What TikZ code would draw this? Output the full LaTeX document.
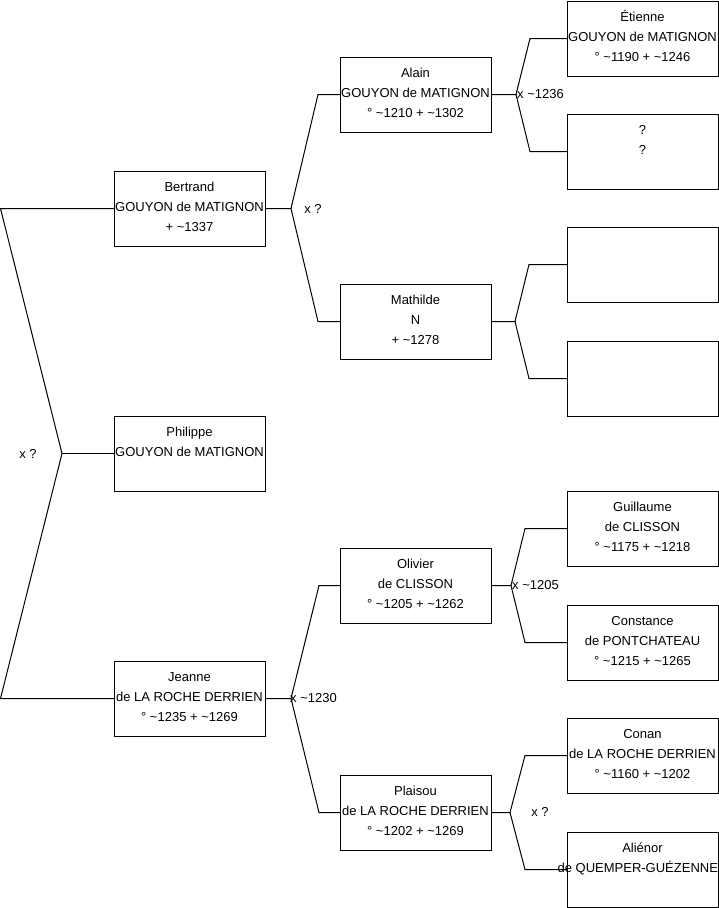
\documentclass[tikz,border=0pt]{standalone}
\usepackage{fontspec}
\setmainfont{Liberation Sans}
\usetikzlibrary{calc}
\newcommand\tl{\textasciitilde}
\newcommand\ptxt[1]{\begin{tabular}[t]{@{}c@{}}#1\end{tabular}}
\begin{document}
\begin{tikzpicture}[x=1pt,y=-1pt,
  person/.style={draw=black, line width=1pt, minimum width=151pt, minimum height=75pt,
    inner sep=0pt, outer sep=0pt, anchor=north west},
  ptext/.style={anchor=base, inner sep=0pt, font=\fontsize{13}{20}\selectfont},
  lnk/.style={line width=1pt, draw=black},
  marr/.style={font=\fontsize{13}{16}\selectfont, inner sep=0pt}]
\useasboundingbox (0,0) rectangle (719,908);
\fill[white] (0,0) rectangle (719,908);

% boxes
\node[person] (bertrand) at (114,171) {};
\node[person] (philippe) at (114,416) {};
\node[person] (jeanne)   at (114,661) {};
\node[person] (alain)    at (340,57) {};
\node[person] (mathilde) at (340,284) {};
\node[person] (olivier)  at (340,548) {};
\node[person] (plaisou)  at (340,775) {};
\node[person] (etienne)  at (567,1) {};
\node[person] (unk)      at (567,114) {};
\node[person] (emptyA)   at (567,227) {};
\node[person] (emptyB)   at (567,341) {};
\node[person] (guillaume) at (567,491) {};
\node[person] (constance) at (567,605) {};
\node[person] (conan)     at (567,718) {};
\node[person] (alienor)   at (567,832) {};

% texts
\node[ptext] (bertrand-t) at ([yshift=-20pt]bertrand.north) {\ptxt{Bertrand\\GOUYON de MATIGNON\\+ \tl1337}};
\node[ptext] (philippe-t) at ([yshift=-20pt]philippe.north) {\ptxt{Philippe\\GOUYON de MATIGNON}};
\node[ptext] (jeanne-t) at ([yshift=-20pt]jeanne.north) {\ptxt{Jeanne\\de LA ROCHE DERRIEN\\° \tl1235 + \tl1269}};
\node[ptext] (alain-t) at ([yshift=-20pt]alain.north) {\ptxt{Alain\\GOUYON de MATIGNON\\° \tl1210 + \tl1302}};
\node[ptext] (mathilde-t) at ([yshift=-20pt]mathilde.north) {\ptxt{Mathilde\\N\\+ \tl1278}};
\node[ptext] (olivier-t) at ([yshift=-20pt]olivier.north) {\ptxt{Olivier\\de CLISSON\\° \tl1205 + \tl1262}};
\node[ptext] (plaisou-t) at ([yshift=-20pt]plaisou.north) {\ptxt{Plaisou\\de LA ROCHE DERRIEN\\° \tl1202 + \tl1269}};
\node[ptext] (etienne-t) at ([yshift=-20pt]etienne.north) {\ptxt{Étienne\\GOUYON de MATIGNON\\° \tl1190 + \tl1246}};
\node[ptext] (unk-t) at ([yshift=-20pt]unk.north) {\ptxt{?\\?}};
\node[ptext] (guillaume-t) at ([yshift=-20pt]guillaume.north) {\ptxt{Guillaume\\de CLISSON\\° \tl1175 + \tl1218}};
\node[ptext] (constance-t) at ([yshift=-20pt]constance.north) {\ptxt{Constance\\de PONTCHATEAU\\° \tl1215 + \tl1265}};
\node[ptext] (conan-t) at ([yshift=-20pt]conan.north) {\ptxt{Conan\\de LA ROCHE DERRIEN\\° \tl1160 + \tl1202}};
\node[ptext] (alienor-t) at ([yshift=-20pt]alienor.north) {\ptxt{Aliénor\\de QUEMPER-GUÉZENNEC}};

% root fork
\coordinate (f0) at (62,453.5);
\draw[lnk] (bertrand.west) -- (0.5,0 |- bertrand.west) -- (f0) -- (0.5,0 |- jeanne.west) -- (jeanne.west);
\draw[lnk] (f0) -- (philippe.west);

% level 1 forks
\coordinate (fB) at (291,0 |- bertrand.east);
\draw[lnk] (bertrand.east) -- (fB) -- ([xshift=-22pt]alain.west) -- (alain.west);
\draw[lnk] (fB) -- ([xshift=-22pt]mathilde.west) -- (mathilde.west);
\coordinate (fJ) at (291,0 |- jeanne.east);
\draw[lnk] (jeanne.east) -- (fJ) -- ([xshift=-21pt]olivier.west) -- (olivier.west);
\draw[lnk] (fJ) -- ([xshift=-21pt]plaisou.west) -- (plaisou.west);

% level 2 forks
\coordinate (fA) at (516,0 |- alain.east);
\draw[lnk] (alain.east) -- (fA) -- ([xshift=-37pt]etienne.west) -- (etienne.west);
\draw[lnk] (fA) -- ([xshift=-37pt]unk.west) -- (unk.west);
\coordinate (fM) at (515,0 |- mathilde.east);
\draw[lnk] (mathilde.east) -- (fM) -- ([xshift=-38pt]emptyA.west) -- (emptyA.west);
\draw[lnk] (fM) -- ([xshift=-38pt]emptyB.west) -- (emptyB.west);
\coordinate (fO) at (511,0 |- olivier.east);
\draw[lnk] (olivier.east) -- (fO) -- ([xshift=-42pt]guillaume.west) -- (guillaume.west);
\draw[lnk] (fO) -- ([xshift=-42pt]constance.west) -- (constance.west);
\coordinate (fP) at (510,0 |- plaisou.east);
\draw[lnk] (plaisou.east) -- (fP) -- ([xshift=-42pt]conan.west) -- (conan.west);
\draw[lnk] (fP) -- ([xshift=-42pt]alienor.west) -- (alienor.west);

% marriage labels
\node[marr] (m0) at (28,453.5) {x ?};
\node[marr] (m1) at (313,208.5) {x ?};
\node[marr, anchor=west] (m2) at (290,698.5) {x \tl1230};
\node[marr, anchor=west] (m3) at (517,94.5) {x \tl1236};
\node[marr, anchor=west] (m4) at (512,585.5) {x \tl1205};
\node[marr] (m5) at (540,812) {x ?};
\end{tikzpicture}
\end{document}
